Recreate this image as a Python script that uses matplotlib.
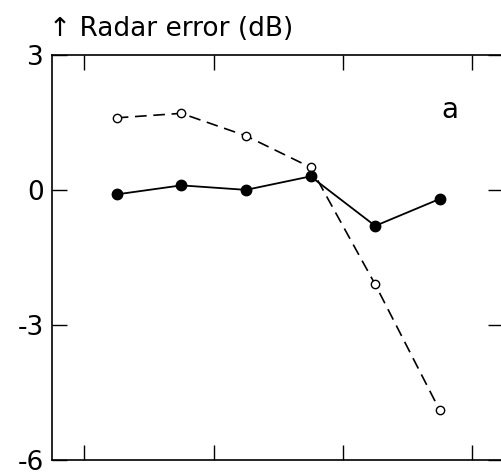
import matplotlib
matplotlib.use("Agg")
import matplotlib.pyplot as plt

x = [1, 2, 3, 4, 5, 6]
open_err = [1.6, 1.7, 1.2, 0.5, -2.1, -4.9]
filled_err = [-0.1, 0.1, 0.0, 0.3, -0.8, -0.2]
yticks = [-6, -3, 0, 3]
xticks = [0.5, 2.5, 4.5, 6.5]

plt.rcParams['font.family'] = ['DejaVu Sans']

fig = plt.figure(figsize=(5.01, 4.75), dpi=100)
ax = fig.add_axes([0.104, 0.0316, 0.899, 0.853])

ax.plot(x, open_err, color='black', lw=1.2, marker='o', ms=6,
        mfc='white', mec='black', mew=1.0, linestyle=(0, (7, 4)))
ax.plot(x, filled_err, '-', color='black', lw=1.3, marker='o', ms=7.5,
        mfc='black', mec='black')

ax.set_xlim(0, 6.97)
ax.set_ylim(-6, 3)
ax.set_yticks(yticks)
ax.set_yticklabels([str(v) for v in yticks])
ax.set_xticks(xticks)
ax.set_xticklabels([])

ax.tick_params(direction='in', length=11, width=1.0, labelsize=19,
               top=True, right=True, pad=6)
for s in ax.spines.values():
    s.set_linewidth(1.2)

ax.text(0.884, 0.864, 'a', transform=ax.transAxes, fontsize=20,
        ha='center', va='center')
fig.text(0.098, 0.939, '\u2191 Radar error (dB)', fontsize=19,
         ha='left', va='center')

fig.savefig('out.png', dpi=100)
